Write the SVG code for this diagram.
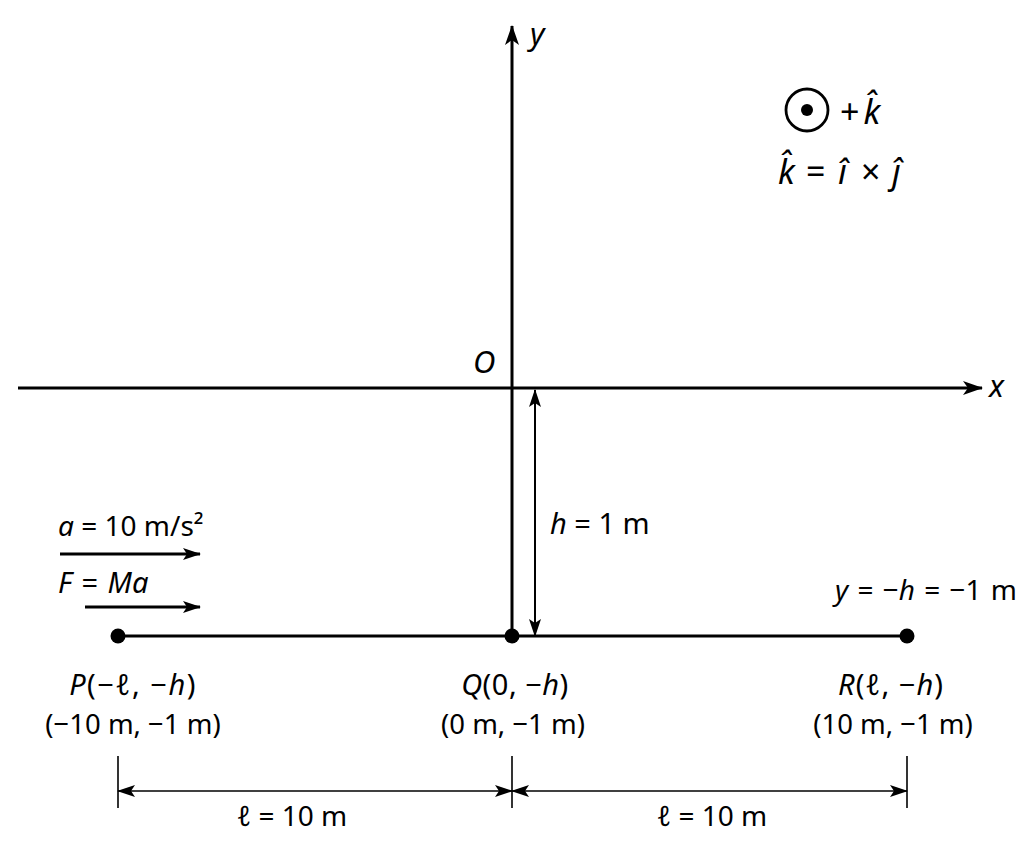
<svg xmlns="http://www.w3.org/2000/svg" width="1024" height="852" viewBox="0 0 1024 852" font-family="'Noto Sans','Open Sans','DejaVu Sans',sans-serif" font-size="27">
<style>
.ln{stroke:#000;stroke-width:3;fill:none}
.thin{stroke:#000;stroke-width:1.6;fill:none}
text{fill:#000}
.i{font-style:italic}
</style>
<defs>
<marker id="ah" viewBox="0 0 20 14" refX="19" refY="7" markerWidth="20" markerHeight="14" markerUnits="userSpaceOnUse" orient="auto-start-reverse">
<path d="M0,0 L20,7 L0,14 L5,7 Z" fill="#000"/>
</marker>
<marker id="ahs" viewBox="0 0 18 12" refX="17" refY="6" markerWidth="18" markerHeight="12" markerUnits="userSpaceOnUse" orient="auto-start-reverse">
<path d="M0,0 L18,6 L0,12 L4,6 Z" fill="#000"/>
</marker>
</defs>
<rect width="1024" height="852" fill="#fff"/>
<g id="connectors">
<line id="x-axis" class="ln" x1="18" y1="388" x2="982" y2="388" marker-end="url(#ah)"/>
<line id="y-axis" class="ln" x1="512" y1="636" x2="512" y2="26" marker-end="url(#ah)"/>
<line id="h-dim" class="thin" x1="535" y1="636" x2="535" y2="390" style="stroke-width:2" marker-start="url(#ahs)" marker-end="url(#ahs)"/>
<line id="baseline" class="ln" x1="118" y1="636" x2="907" y2="636"/>
<line id="a-arrow" class="ln" x1="60" y1="554" x2="200" y2="554" marker-end="url(#ahs)"/>
<line id="f-arrow" class="ln" x1="85" y1="607" x2="200" y2="607" marker-end="url(#ahs)"/>
<line class="thin" x1="118" y1="756" x2="118" y2="808"/>
<line class="thin" x1="512" y1="756" x2="512" y2="808"/>
<line class="thin" x1="907" y1="756" x2="907" y2="808"/>
<line id="dim-left" class="thin" x1="118" y1="791" x2="512" y2="791" marker-start="url(#ahs)" marker-end="url(#ahs)"/>
<line id="dim-right" class="thin" x1="512" y1="791" x2="907" y2="791" marker-start="url(#ahs)" marker-end="url(#ahs)"/>
</g>
<g id="axis-labels" font-size="31">
<text class="i" x="530" y="45">y</text>
<text class="i" x="989" y="397">x</text>
<text class="i" x="473" y="373">O</text>
</g>
<g id="legend">
<circle cx="807" cy="110" r="21" fill="none" stroke="#000" stroke-width="2.8"/>
<circle cx="807" cy="110" r="6" fill="#000"/>
<text x="840" y="124" font-size="34">+<tspan class="i" dx="4">k̂</tspan></text>
<text y="184" font-size="34"><tspan class="i" x="778">k̂</tspan><tspan x="806">=</tspan><tspan class="i" x="838">î</tspan><tspan x="861">×</tspan><tspan class="i" x="892">ĵ</tspan></text>
</g>
<g id="labels-left">
<text x="58" y="536" font-size="28"><tspan class="i">a</tspan> = 10 m/s²</text>
<text x="58" y="593" font-size="29" word-spacing="2"><tspan class="i">F</tspan> = <tspan class="i">Ma</tspan></text>
</g>
<g id="h-label">
<text x="550" y="534" font-size="29"><tspan class="i">h</tspan> = 1 m</text>
</g>
<g id="line-label">
<text x="1017" y="600" text-anchor="end" font-size="28" word-spacing="2"><tspan class="i">y</tspan> = −<tspan class="i">h</tspan> = −1 m</text>
</g>
<g id="node-P">
<circle cx="118" cy="636" r="7.5" fill="#000"/>
<text x="133" y="695" text-anchor="middle" font-size="29" letter-spacing="1.5"><tspan class="i">P</tspan>(−<tspan class="i">ℓ</tspan>, −<tspan class="i">h</tspan>)</text>
<text x="133" y="734" text-anchor="middle" font-size="27.5">(−10 m, −1 m)</text>
</g>
<g id="node-Q">
<circle cx="512" cy="636" r="7.5" fill="#000"/>
<text x="515" y="695" text-anchor="middle" font-size="29" letter-spacing="0.5"><tspan class="i">Q</tspan>(0, −<tspan class="i">h</tspan>)</text>
<text x="513" y="734" text-anchor="middle" font-size="27.5">(0 m, −1 m)</text>
</g>
<g id="node-R">
<circle cx="907" cy="636" r="7.5" fill="#000"/>
<text x="891" y="695" text-anchor="middle" font-size="29" letter-spacing="1"><tspan class="i">R</tspan>(<tspan class="i">ℓ</tspan>, −<tspan class="i">h</tspan>)</text>
<text x="893" y="734" text-anchor="middle" font-size="27.5">(10 m, −1 m)</text>
</g>
<g id="dim-labels" font-size="28">
<text x="292" y="826" text-anchor="middle"><tspan class="i">ℓ</tspan> = 10 m</text>
<text x="712" y="826" text-anchor="middle"><tspan class="i">ℓ</tspan> = 10 m</text>
</g>
</svg>
